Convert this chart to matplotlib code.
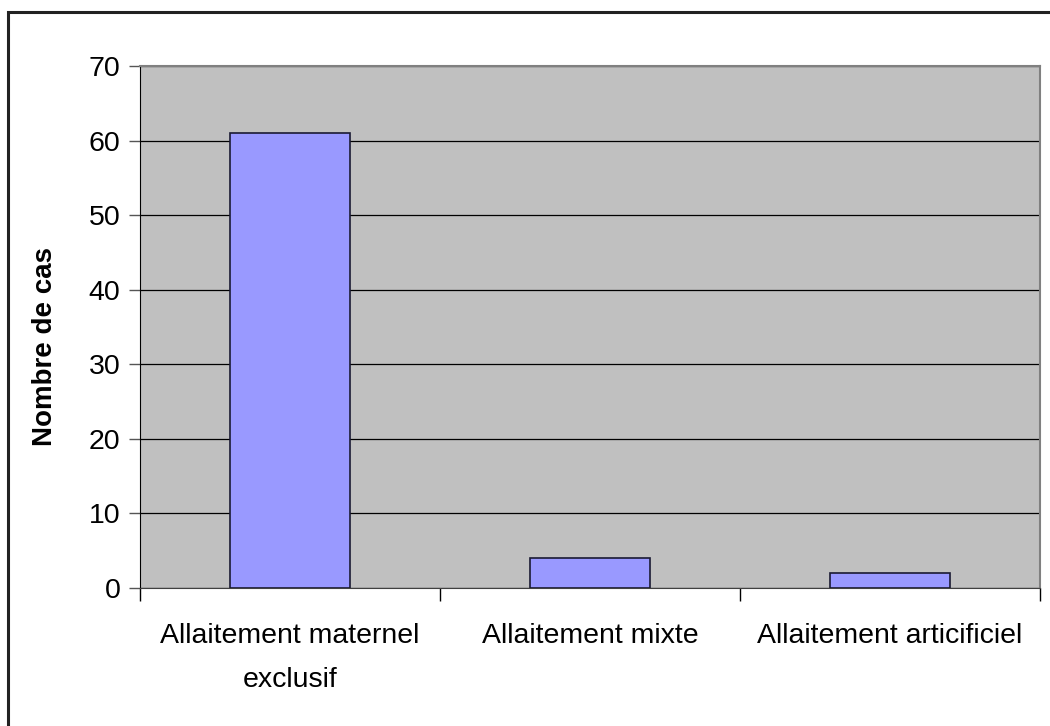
import matplotlib
matplotlib.use("Agg")
import matplotlib.pyplot as plt
from matplotlib.patches import Rectangle

categories = ["Allaitement maternel\nexclusif", "Allaitement mixte", "Allaitement articificiel"]
values = [61, 4, 2]
yticks = [0, 10, 20, 30, 40, 50, 60, 70]

plt.rcParams['font.family'] = ['Liberation Sans', 'DejaVu Sans']

fig = plt.figure(figsize=(10.5, 7.26), dpi=100)
W, H = 1050, 726
ax = fig.add_axes([140 / W, 1 - 588 / H, 900 / W, (588 - 66) / H])
ax.set_facecolor('#C0C0C0')

x = list(range(len(categories)))
ax.bar(x, values, width=0.4, color='#9999FF', edgecolor='#1a1a33', linewidth=1.2, zorder=3)

ax.set_xlim(-0.5, len(categories) - 0.5)
ax.set_ylim(0, 70)
ax.set_yticks(yticks)
ax.yaxis.grid(True, color='black', linewidth=0.9, zorder=1)
ax.set_axisbelow(True)

ax.set_xticks(x)
ax.set_xticklabels(categories, fontsize=20.5, linespacing=1.9)
ax.tick_params(axis='x', length=0, pad=25)
ax.set_xticks([-0.5, 0.5, 1.5, 2.5], minor=True)
ax.tick_params(axis='x', which='minor', length=9, width=1, color='black', direction='out')
ax.tick_params(axis='y', length=8, width=1, color='#555555', labelsize=20.5, pad=6)

fig.text(45 / W, 1 - 346 / H, "Nombre de cas", rotation=90, ha='center', va='center',
         fontsize=20, fontweight='bold')

for side in ('top', 'right'):
    ax.spines[side].set_color('#808080')
    ax.spines[side].set_linewidth(1.5)
ax.spines['left'].set_color('black')
ax.spines['bottom'].set_color('#404040')

# outer frame of the chart
fig.patches.append(Rectangle((8 / W, -0.1), 1.2, 1 - 12 / H + 0.1, transform=fig.transFigure,
                             fill=False, edgecolor='#222222', linewidth=2.2))

fig.savefig("out.png", dpi=100)
